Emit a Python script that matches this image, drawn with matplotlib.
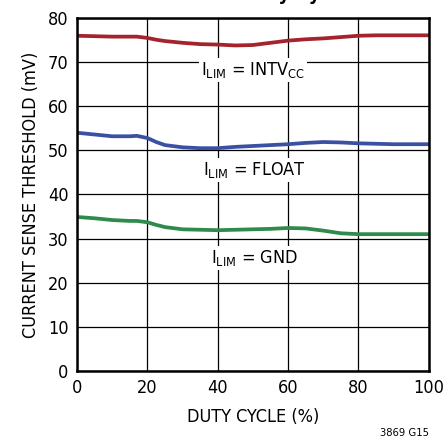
import matplotlib
matplotlib.use("Agg")
import matplotlib.pyplot as plt

plt.rcParams['font.family'] = ['DejaVu Sans']
plt.rcParams['font.stretch'] = 'condensed'
plt.rcParams['mathtext.fontset'] = 'custom'
plt.rcParams['mathtext.rm'] = 'DejaVu Sans:stretch=condensed'

# duty cycle (%) and current sense threshold (mV)
duty = [0, 5, 10, 15, 17, 20, 22.5, 25, 30, 35, 40, 45, 50, 55, 60, 65, 70, 75, 80, 85, 90, 95, 100]
intvcc = [76.0, 75.9, 75.8, 75.8, 75.8, 75.5, 75.1, 74.8, 74.4, 74.1, 74.0, 73.8, 73.9, 74.4, 74.9, 75.2, 75.4, 75.7, 76.0, 76.1, 76.1, 76.1, 76.1]
floating = [54.0, 53.6, 53.2, 53.2, 53.3, 52.8, 51.9, 51.2, 50.7, 50.5, 50.5, 50.8, 51.0, 51.2, 51.4, 51.7, 51.9, 51.8, 51.6, 51.5, 51.4, 51.4, 51.4]
gnd = [34.9, 34.6, 34.2, 34.0, 34.0, 33.7, 33.1, 32.6, 32.1, 32.0, 31.9, 32.0, 32.1, 32.2, 32.4, 32.3, 31.8, 31.2, 31.0, 31.0, 31.0, 31.0, 31.0]

xticks = [0, 20, 40, 60, 80, 100]
yticks = [0, 10, 20, 30, 40, 50, 60, 70, 80]

fig = plt.figure(figsize=(4.43, 4.42), dpi=100)
ax = fig.add_axes([0.174, 0.161, 0.794, 0.798])

ax.plot(duty, intvcc, color='#a5232d', lw=2.7, solid_joinstyle='round')
ax.plot(duty, floating, color='#3a51a3', lw=2.7, solid_joinstyle='round')
ax.plot(duty, gnd, color='#2f8a4b', lw=2.7, solid_joinstyle='round')

ax.set_xlim(0, 100)
ax.set_ylim(0, 80)
ax.set_xticks(xticks)
ax.set_yticks(yticks)
ax.grid(True, color='black', lw=0.9)
ax.set_axisbelow(True)
ax.tick_params(length=0, labelsize=13, pad=6)
for s in ax.spines.values():
    s.set_linewidth(1.8)

box = dict(facecolor='white', edgecolor='none', pad=1.5)
ax.text(50, 68.2, r'I$_{\mathregular{LIM}}$ = INTV$_{\mathregular{CC}}$', ha='center', va='center', fontsize=13, bbox=box)
ax.text(50.5, 45.5, r'I$_{\mathregular{LIM}}$ = FLOAT', ha='center', va='center', fontsize=13, bbox=box)
ax.text(50.5, 25.6, r'I$_{\mathregular{LIM}}$ = GND', ha='center', va='center', fontsize=13, bbox=box)

ax.set_xlabel('DUTY CYCLE (%)', fontsize=13, labelpad=8)
ax.set_ylabel('CURRENT SENSE THRESHOLD (mV)', fontsize=13, labelpad=6)

fig.text(0.968, 0.008, '3869 G15', ha='right', va='bottom', fontsize=8)
fig.text(0.635, 1.012, 'vs Duty Cycle', ha='center', va='center', fontsize=14, fontweight='bold')

fig.savefig('out.png', dpi=100)
